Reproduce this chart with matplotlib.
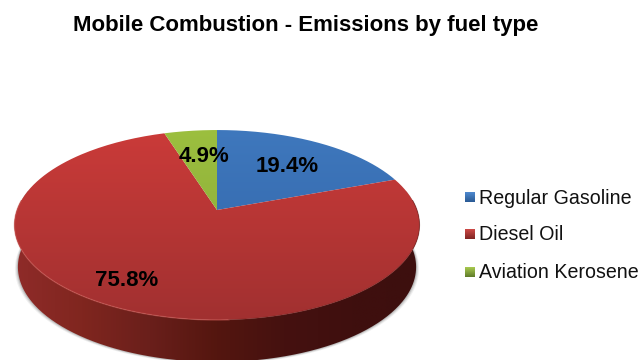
import numpy as np
import matplotlib
matplotlib.use("Agg")
import matplotlib.pyplot as plt
from matplotlib.colors import LinearSegmentedColormap
from matplotlib.patches import PathPatch, Rectangle
from matplotlib.path import Path

plt.rcParams['font.family'] = ['Liberation Sans', 'DejaVu Sans']

# Chart content
title = "Mobile Combustion - Emissions by fuel type"
fuels = ["Regular Gasoline", "Diesel Oil", "Aviation Kerosene"]
shares = [19.4, 75.8, 4.9]
top_colors = [("#3f78bd", "#2f62a6"), ("#cb3b39", "#a03030"), ("#9cbf3f", "#86a637")]
swatch_colors = [("#4f8ad0", "#2a5a94"), ("#cf4a47", "#7f2523"), ("#a9cb4f", "#5f7a2a")]
label_xy = [(287, 166), (127, 281), (204, 156)]

# Projected disc: pixel layout of the tilted pie
CX, CY, RX, RY, TILT = 217.0, 210.0, 200.0, 92.6, 0.158
DEPTH = 42.0
BASE_SCALE = 0.983


def project(theta):
    """Map clockwise-from-north angles onto the tilted disc."""
    u, d = np.sin(theta), -np.cos(theta)
    w = 1 - TILT * d
    return CX + RX * u / w, CY + RY * d / w


def gradient_fill(ax, path, extent, c0, c1, vertical=True, stops=None):
    cmap = LinearSegmentedColormap.from_list("g", stops or [c0, c1])
    g = np.linspace(0, 1, 256)
    g = g[:, None] if vertical else g[None, :]
    im = ax.imshow(g, cmap=cmap, extent=extent, origin="upper", aspect="auto",
                   interpolation="bilinear", zorder=2)
    patch = PathPatch(path, transform=ax.transData, fc="none", ec="none")
    ax.add_patch(patch)
    im.set_clip_path(patch)
    return im


fig = plt.figure(figsize=(6.42, 3.60), dpi=100)
ax = fig.add_axes([0, 0, 1, 1])
ax.set_axis_off()

# Side wall outline, shared by the shadow and the wall itself
t_side = np.linspace(np.pi / 2 - 0.22, 3 * np.pi / 2 + 0.22, 361)
sx_top, sy_top = project(t_side)
sx_bot = CX + (sx_top - CX) * BASE_SCALE
sy_bot = sy_top + DEPTH

# Thin soft shadow hugging the lower edge of the wall
for grow, alpha in zip([3.0, 2.0, 1.0], [0.06, 0.09, 0.14]):
    gx = CX + (sx_bot - CX) * (1 + grow / RX)
    ax.fill(np.r_[sx_top, gx[::-1]], np.r_[sy_top, (sy_bot + grow * 0.6)[::-1]],
            color="#000000", alpha=alpha, lw=0, zorder=1)

verts = np.column_stack([np.r_[sx_top, sx_bot[::-1]], np.r_[sy_top, sy_bot[::-1]]])
verts = np.vstack([verts, verts[0]])
gradient_fill(ax, Path(verts), (14, 420, 380, 200), None, None, vertical=False,
              stops=["#8f2b29", "#80261f", "#6a1f1b", "#54160f", "#451110", "#3f0f0e", "#3d0f0e"])

# Top face wedges, clockwise from north
fractions = np.array(shares) / np.sum(shares)
edges = np.r_[0, np.cumsum(fractions)] * 2 * np.pi
for start, stop, (c0, c1) in zip(edges[:-1], edges[1:], top_colors):
    a = np.linspace(start, stop, 240)
    x, y = project(a)
    v = np.vstack([[CX, CY], np.column_stack([x, y]), [CX, CY]])
    gradient_fill(ax, Path(v), (0, 440, 325, 128), c0, c1)

# Lighter rim on the front-left of the disc, darker on the front-right
t_rim = np.linspace(np.pi - 0.05, 3 * np.pi / 2 + 0.1, 200)
rx, ry = project(t_rim)
ax.plot(rx, ry, color="#cf5a55", lw=1.0, alpha=0.5, zorder=3)
t_dark = np.linspace(np.pi / 2 - 0.1, np.pi - 0.05, 200)
rx, ry = project(t_dark)
ax.plot(rx, ry, color="#6e1f1c", lw=0.8, alpha=0.45, zorder=3)

# Value labels
for (lx, ly), value in zip(label_xy, shares):
    ax.text(lx, ly, f"{value:.1f}%", ha="center", va="center", fontsize=16,
            fontweight="bold", color="black", zorder=5)

# Legend
for fuel, yc, (c0, c1) in zip(fuels, [197, 234, 272], swatch_colors):
    box = Rectangle((465, yc - 5), 10, 10)
    gradient_fill(ax, box.get_path().transformed(box.get_patch_transform()),
                  (465, 475, yc + 5, yc - 5), c0, c1)
    ax.text(479, yc + 1, fuel, ha="left", va="center", fontsize=14.1, color="#111111", zorder=5)

ax.text(306, 25, title, ha="center", va="center", fontsize=16, fontweight="bold", color="black")

ax.set_xlim(0, 642)
ax.set_ylim(360, 0)
fig.savefig("out.png", dpi=100)
